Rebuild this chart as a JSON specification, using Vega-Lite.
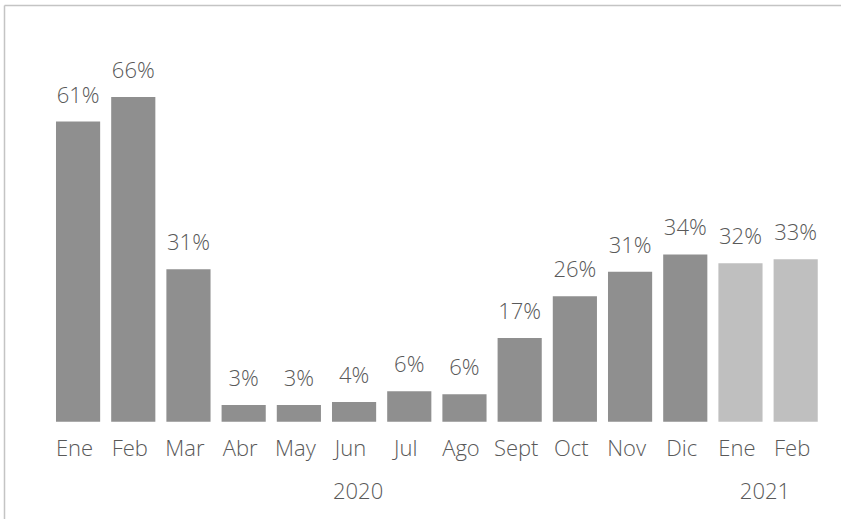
{
  "$schema": "https://vega.github.io/schema/vega-lite/v6.json",
  "autosize": "none",
  "width": 837,
  "height": 514,
  "padding": {"left": 4, "top": 5, "right": 0, "bottom": 0},
  "background": "white",
  "config": {"view": {"stroke": null}, "text": {"font": "Open Sans", "fontWeight": 300, "fontSize": 22, "color": "#595959"}},
  "datasets": {
    "main": [
      {"period": "Ene 2020", "year": "2020", "share": 0.61},
      {"period": "Feb 2020", "year": "2020", "share": 0.66},
      {"period": "Mar 2020", "year": "2020", "share": 0.31},
      {"period": "Abr 2020", "year": "2020", "share": 0.034},
      {"period": "May 2020", "year": "2020", "share": 0.034},
      {"period": "Jun 2020", "year": "2020", "share": 0.04},
      {"period": "Jul 2020", "year": "2020", "share": 0.062},
      {"period": "Ago 2020", "year": "2020", "share": 0.056},
      {"period": "Sept 2020", "year": "2020", "share": 0.17},
      {"period": "Oct 2020", "year": "2020", "share": 0.255},
      {"period": "Nov 2020", "year": "2020", "share": 0.305},
      {"period": "Dic 2020", "year": "2020", "share": 0.34},
      {"period": "Ene 2021", "year": "2021", "share": 0.322},
      {"period": "Feb 2021", "year": "2021", "share": 0.33}
    ]
  },
  "resolve": {"axis": {"x": "independent"}},
  "layer": [
    {
      "data": {"name": "main"},
      "mark": {"type": "bar", "width": {"band": 1}},
      "encoding": {
        "x": {
          "field": "period", "type": "nominal",
          "scale": {
            "domain": ["Ene 2020","Feb 2020","Mar 2020","Abr 2020","May 2020","Jun 2020","Jul 2020","Ago 2020","Sept 2020","Oct 2020","Nov 2020","Dic 2020","Ene 2021","Feb 2021"],
            "paddingInner": 0.2, "paddingOuter": 0.6815, "align": 0.691
          },
          "axis": {
            "orient": "bottom", "title": null, "domain": false, "ticks": false, "grid": false,
            "labelAngle": 0, "labelExpr": "split(datum.label, ' ')[0]",
            "labelFont": "Open Sans", "labelFontWeight": 300, "labelFontSize": 22, "labelColor": "#595959",
            "labelBaseline": "alphabetic", "labelPadding": 33.3, "offset": -97.3, "labelOverlap": false, "labelOffset": -3.5
          }
        },
        "y": {
          "field": "share", "type": "quantitative",
          "scale": {"domain": [-0.1978, 0.847], "nice": false, "zero": false},
          "axis": {"title": null, "labels": false, "ticks": false, "grid": false, "domain": true, "domainColor": "#c4c4c4", "domainWidth": 1.5}
        },
        "color": {"field": "year", "type": "nominal", "scale": {"domain": ["2020", "2021"], "range": ["#8f8f8f", "#bfbfbf"]}, "legend": null}
      }
    },
    {
      "data": {"name": "main"},
      "mark": {"type": "text", "baseline": "alphabetic", "dy": -19},
      "encoding": {
        "x": {"field": "period", "type": "nominal", "axis": null},
        "y": {"field": "share", "type": "quantitative"},
        "text": {"field": "share", "type": "quantitative", "format": ".0%"}
      }
    },
    {
      "data": {"values": [{"period": "Jun 2020", "year": "2020"}]},
      "mark": {"type": "text", "baseline": "alphabetic", "dx": 4},
      "encoding": {
        "x": {"field": "period", "type": "nominal", "axis": null},
        "y": {"datum": -0.1565, "type": "quantitative"},
        "text": {"field": "year", "type": "nominal"}
      }
    },
    {
      "data": {"values": [{"period": "Ene 2021", "year": "2021"}]},
      "mark": {"type": "text", "baseline": "alphabetic", "dx": 24.5},
      "encoding": {
        "x": {"field": "period", "type": "nominal", "axis": null},
        "y": {"datum": -0.1565, "type": "quantitative"},
        "text": {"field": "year", "type": "nominal"}
      }
    },
    {
      "data": {"name": "main"},
      "mark": {"type": "text", "text": ""},
      "encoding": {
        "x": {
          "field": "period", "type": "nominal",
          "axis": {"orient": "top", "title": null, "labels": false, "ticks": false, "grid": false, "domain": true, "domainColor": "#c4c4c4", "domainWidth": 1.5}
        }
      }
    }
  ]
}
